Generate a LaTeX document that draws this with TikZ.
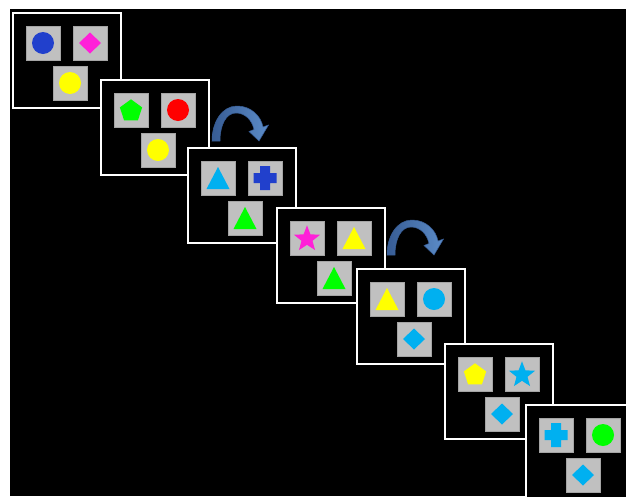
\documentclass[tikz,border=0pt]{standalone}
\usetikzlibrary{calc}
\definecolor{sqgray}{RGB}{192,192,192}
\definecolor{sqedge}{RGB}{165,165,165}
\definecolor{cBlue}{RGB}{33,64,204}
\definecolor{cMag}{RGB}{255,32,216}
\definecolor{cYel}{RGB}{255,255,0}
\definecolor{cGreen}{RGB}{0,255,0}
\definecolor{cRed}{RGB}{255,0,0}
\definecolor{cCyan}{RGB}{0,176,240}
\definecolor{arrowlight}{RGB}{92,140,200}
\definecolor{arrowdark}{RGB}{55,92,148}
\tikzset{
  panelbox/.style={draw=white, line width=1.8pt, fill=black, shape=rectangle,
    minimum width=108pt, minimum height=95pt, inner sep=0pt, anchor=north west},
  card/.style={draw=sqedge, line width=0.6pt, fill=sqgray, shape=rectangle,
    minimum size=34pt, inner sep=0pt},
  bluearrow/.style={left color=arrowdark, right color=arrowlight, draw=arrowdark, line width=0.5pt}
}
\newcommand{\mkpanel}[3]{%
  \node[panelbox] (#1) at (#2,#3) {};
  \node[card] (#1a) at (#2+31,#3+31) {};
  \node[card] (#1b) at (#2+78,#3+31) {};
  \node[card] (#1c) at (#2+58,#3+71) {};
}
\newcommand{\shCircle}[2]{\fill[#2] (#1) circle[radius=11pt];}
\newcommand{\shDiamond}[2]{\fill[#2,shift={(#1)}] (0,-10.5) -- (11,0) -- (0,10.5) -- (-11,0) -- cycle;}
\newcommand{\shTri}[2]{\fill[#2,shift={(#1)}] (0,-11) -- (11.5,11) -- (-11.5,11) -- cycle;}
\newcommand{\shPlus}[2]{\fill[#2,shift={(#1)}] (-5,-12) -- (5,-12) -- (5,-5) -- (11.5,-5) -- (11.5,5) -- (5,5) -- (5,12) -- (-5,12) -- (-5,5) -- (-11.5,5) -- (-11.5,-5) -- (-5,-5) -- cycle;}
\newcommand{\shPent}[2]{\fill[#2,shift={(#1)},shift={(0,1)}] (-90:11.7) -- (-18:11.7) -- (54:11.7) -- (126:11.7) -- (198:11.7) -- cycle;}
\newcommand{\shStar}[2]{\fill[#2,shift={(#1)},shift={(0,1)}] (-90:13.7) -- (-54:5.8) -- (-18:13.7) -- (18:5.8) -- (54:13.7) -- (90:5.8) -- (126:13.7) -- (162:5.8) -- (198:13.7) -- (234:5.8) -- cycle;}
\newcommand{\curvedarrow}[2]{%
  \path[bluearrow, shift={(#1,#2)}]
    (212,141) .. controls (212,122) and (222,106) .. (237,106)
    .. controls (251,106) and (261,116) .. (263,127)
    -- (268.5,125) -- (259,141) -- (249,131.5) -- (254,129.5)
    .. controls (252,120) and (245,113) .. (236,113)
    .. controls (226,113) and (220,125) .. (220,141) -- cycle;
}
\begin{document}
\begin{tikzpicture}[x=1pt,y=-1pt]
\useasboundingbox (0,0) rectangle (626,496);
\fill[white] (0,0) rectangle (626,496);
\begin{scope}
\clip (0,0) rectangle (626,496);
\fill[black] (10,9) rectangle (626,496);

\mkpanel{PA}{12}{12}
\shCircle{PAa}{cBlue}
\shDiamond{PAb}{cMag}
\shCircle{PAc}{cYel}

\mkpanel{PB}{100}{79}
\shPent{PBa}{cGreen}
\shCircle{PBb}{cRed}
\shCircle{PBc}{cYel}

\mkpanel{PC}{187}{147}
\shTri{PCa}{cCyan}
\shPlus{PCb}{cBlue}
\shTri{PCc}{cGreen}

\mkpanel{PD}{276}{207}
\shStar{PDa}{cMag}
\shTri{PDb}{cYel}
\shTri{PDc}{cGreen}

\mkpanel{PE}{356}{268}
\shTri{PEa}{cYel}
\shCircle{PEb}{cCyan}
\shDiamond{PEc}{cCyan}

\mkpanel{PF}{444}{343}
\shPent{PFa}{cYel}
\shStar{PFb}{cCyan}
\shDiamond{PFc}{cCyan}

\mkpanel{PG}{525}{404}
\shPlus{PGa}{cCyan}
\shCircle{PGb}{cGreen}
\shDiamond{PGc}{cCyan}

\curvedarrow{0}{0}
\curvedarrow{175}{114}
\end{scope}
\end{tikzpicture}
\end{document}
